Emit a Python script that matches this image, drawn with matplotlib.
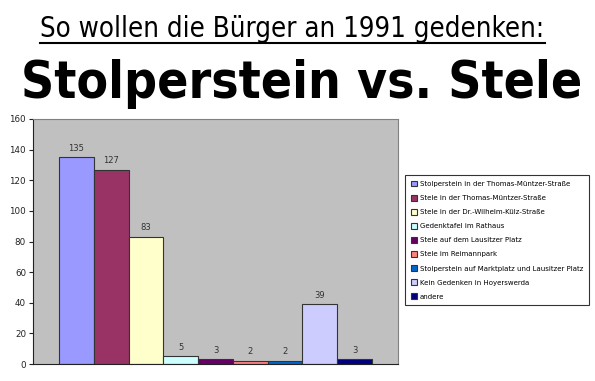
import matplotlib
matplotlib.use("Agg")
import matplotlib.pyplot as plt
from matplotlib import font_manager
from matplotlib.lines import Line2D

# Daten
labels = [
    "Stolperstein in der Thomas-Müntzer-Straße",
    "Stele in der Thomas-Müntzer-Straße",
    "Stele in der Dr.-Wilhelm-Külz-Straße",
    "Gedenktafel im Rathaus",
    "Stele auf dem Lausitzer Platz",
    "Stele im Reimannpark",
    "Stolperstein auf Marktplatz und Lausitzer Platz",
    "Kein Gedenken in Hoyerswerda",
    "andere",
]
values = [135, 127, 83, 5, 3, 2, 2, 39, 3]
colors = ["#9999FF", "#993366", "#FFFFCC", "#CCFFFF", "#660066",
          "#FF8080", "#0066CC", "#CCCCFF", "#000080"]
yticks = [0, 20, 40, 60, 80, 100, 120, 140, 160]

title1 = "So wollen die Bürger an 1991 gedenken:"
title2 = "Stolperstein vs. Stele"

# schmale Schrift suchen
installed = {f.name for f in font_manager.fontManager.ttflist}
narrow = "Liberation Sans Narrow" if "Liberation Sans Narrow" in installed else "DejaVu Sans"

W, H = 595, 381
fig = plt.figure(figsize=(W / 100, H / 100), dpi=100)
fig.patch.set_facecolor("white")
renderer = fig.canvas.get_renderer()

# Diagrammfläche
ax = fig.add_axes([33 / W, 1 - 364 / H, 365 / W, 245 / H])
ax.set_facecolor("#C0C0C0")
x = list(range(len(values)))
bars = ax.bar(x, values, width=1.0, color=colors, edgecolor="#333333", linewidth=0.8)
for xi, v in zip(x, values):
    ax.text(xi, v + 3, str(v), ha="center", va="bottom", fontsize=6, color="#333333")
ax.set_xlim(-1.25, 9.25)
ax.set_ylim(0, 160)
ax.set_yticks(yticks)
ax.set_xticks([])
ax.tick_params(axis="y", labelsize=6.3, colors="#222222", length=3, width=0.8, pad=2)
for s in ["top", "right"]:
    ax.spines[s].set_color("#808080")
for s in ["left", "bottom"]:
    ax.spines[s].set_color("#222222")
for s in ax.spines.values():
    s.set_linewidth(0.8)

# Legende: Schriftgröße so, dass die längste Zeile ~165 px breit ist
longest = max(labels, key=len)
probe = fig.text(0, 0, longest, fontsize=10)
leg_fs = 10 * 165 / probe.get_window_extent(renderer).width
probe.remove()

leg = fig.legend(bars, labels, loc="upper left", bbox_to_anchor=(405 / W, 1 - 175 / H),
                 fontsize=leg_fs, frameon=True, fancybox=False, edgecolor="black",
                 handlelength=0.9, handleheight=0.9, handletextpad=0.4,
                 labelspacing=1.1, borderpad=0.8, borderaxespad=0)
leg.get_frame().set_linewidth(0.8)


# Überschriften
def fit_text(txt, x0, x1, y_base, size, weight):
    t = fig.text(x0 / W, 1 - y_base / H, txt, fontsize=size, fontfamily=narrow,
                 fontweight=weight, fontstretch="condensed", ha="left", va="baseline")
    bb = t.get_window_extent(renderer)
    t.set_fontsize(size * (x1 - x0) / bb.width)
    return t


t1 = fit_text(title1, 40, 545, 37, 24, "normal")
t2 = fit_text(title2, 21, 582, 98, 46, "heavy")

fig.add_artist(Line2D([40 / W, 545 / W], [1 - 43 / H, 1 - 43 / H],
                      color="black", linewidth=1.5, transform=fig.transFigure))

fig.savefig("out.png", dpi=100)
